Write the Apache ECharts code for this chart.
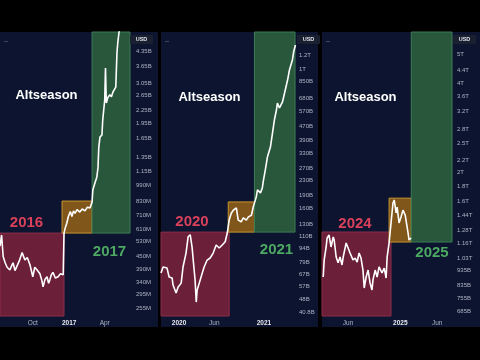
<!DOCTYPE html>
<html>
<head>
<meta charset="utf-8">
<script src="https://cdn.jsdelivr.net/npm/echarts@6.0.0/dist/echarts.min.js"></script>
<style>
    html, body { margin: 0; padding: 0; background: #000; }
    #main { width: 480px; height: 360px; }
</style>
</head>
<body>
<div id="main"></div>
<script>
// ---- panel 1 : 2016 -> 2017 (total crypto market cap, USD) ----
var dates1 = ['2016-07-10','2016-07-14','2016-07-18','2016-07-23','2016-07-28','2016-08-04','2016-08-08','2016-08-12',
    '2016-08-17','2016-08-22','2016-08-28','2016-09-04','2016-09-11','2016-09-17','2016-09-24','2016-10-01','2016-10-06',
    '2016-10-12','2016-10-19','2016-10-24','2016-10-27','2016-11-01','2016-11-06','2016-11-10','2016-11-13','2016-11-17',
    '2016-11-21','2016-11-27','2016-12-04','2016-12-10','2016-12-17','2016-12-19','2016-12-22','2016-12-26','2016-12-30',
    '2017-01-04','2017-01-08','2017-01-12','2017-01-16','2017-01-21','2017-01-28','2017-02-03','2017-02-10','2017-02-16',
    '2017-02-23','2017-02-28','2017-03-02','2017-03-07','2017-03-12','2017-03-15','2017-03-17','2017-03-20','2017-03-25',
    '2017-03-27','2017-04-01','2017-04-03','2017-04-05','2017-04-09','2017-04-14','2017-04-18','2017-04-22','2017-04-29',
    '2017-05-02','2017-05-04','2017-05-07','2017-05-12'];
var caps1 = [505e6,570e6,450e6,420e6,400e6,388e6,405e6,420e6,
    385e6,390e6,430e6,470e6,433e6,445e6,410e6,360e6,400e6,
    388e6,372e6,345e6,322e6,350e6,360e6,335e6,347e6,368e6,
    378e6,355e6,360e6,372e6,368e6,583e6,616e6,650e6,700e6,
    740e6,700e6,745e6,725e6,755e6,735e6,760e6,745e6,775e6,
    770e6,821e6,938e6,1.01e9,1.08e9,1.2e9,1.5e9,1.68e9,1.72e9,
    2.03e9,2.53e9,3.6e9,2.45e9,2.6e9,2.68e9,2.62e9,2.77e9,2.92e9,
    4.25e9,4.75e9,5.31e9,6.0e9];
var yTicks1 = [4.35e9,3.65e9,3.05e9,2.65e9,2.25e9,1.95e9,1.65e9,1.35e9,1.15e9,990e6,830e6,710e6,610e6,530e6,450e6,390e6,340e6,295e6,255e6];
var xTicks1 = ['2016-10-01','2017-01-01','2017-04-01'];
var xNames1 = ['Oct','2017','Apr'];
var xRange1 = ['2016-07-10','2017-06-04'];
var yRange1 = [233.5e6, 5.36e9];
// zones: [from, to, low, high]
var redZone1 = ['2016-07-10','2016-12-19', 233.5e6, 583e6];
var orangeZone1 = ['2016-12-14','2017-02-28', 583e6, 830e6];
var greenZone1 = ['2017-02-28','2017-06-04', 583e6, 5.36e9];

// ---- panel 2 : 2020 -> 2021 ----
var dates2 = ['2019-10-15','2019-10-24','2019-11-01','2019-11-10','2019-11-19','2019-12-02','2019-12-06','2019-12-19',
    '2019-12-28','2020-01-10','2020-01-18','2020-01-31','2020-02-09','2020-02-18','2020-02-26','2020-03-02','2020-03-10',
    '2020-03-15','2020-03-19','2020-03-28','2020-04-10','2020-04-18','2020-05-01','2020-05-14','2020-05-27','2020-06-09',
    '2020-06-22','2020-07-05','2020-07-18','2020-07-27','2020-08-04','2020-08-13','2020-08-22','2020-09-04','2020-09-12',
    '2020-09-25','2020-10-04','2020-10-17','2020-10-26','2020-11-08','2020-11-16','2020-11-29','2020-12-04','2020-12-17',
    '2020-12-25','2020-12-30','2021-01-07','2021-01-16','2021-01-29','2021-02-07','2021-02-15','2021-02-24','2021-02-28',
    '2021-03-09','2021-03-22','2021-03-31','2021-04-13','2021-04-21','2021-05-04','2021-05-09','2021-05-17'];
var caps2 = [68.3e9,73.9e9,75.8e9,72.9e9,64.8e9,63.9e9,58.3e9,52.5e9,
    56.8e9,59.8e9,73.9e9,88.8e9,110e9,113e9,96e9,81e9,62.3e9,
    46.6e9,54.6e9,59.8e9,68.3e9,73.9e9,81e9,83.2e9,88.8e9,98.7e9,
    94.9e9,98.7e9,103e9,116e9,137e9,150e9,156e9,161e9,137e9,
    134e9,141e9,137e9,143e9,146e9,163e9,186e9,204e9,196e9,
    209e9,232e9,265e9,314e9,358e9,431e9,511e9,583e9,639e9,
    599e9,648e9,729e9,865e9,987e9,1.13e12,1.25e12,1.37e12];
var yTicks2 = [1.2e12,1e12,850e9,680e9,570e9,470e9,390e9,330e9,270e9,230e9,190e9,160e9,130e9,110e9,94e9,79e9,67e9,57e9,48e9,40.8e9];
var xTicks2 = ['2020-01-01','2020-06-01','2021-01-01'];
var xNames2 = ['2020','Jun','2021'];
var xRange2 = ['2019-10-15','2021-05-15'];
var yRange2 = [38.8e9, 1.627e12];
var redZone2 = ['2019-10-15','2020-08-04', 38.8e9, 117e9];
var orangeZone2 = ['2020-07-31','2020-11-21', 117e9, 174e9];
var greenZone2 = ['2020-11-21','2021-05-15', 117e9, 1.627e12];

// ---- panel 3 : 2024 -> 2025 ----
var dates3 = ['2024-02-20','2024-02-24','2024-03-03','2024-03-07','2024-03-15','2024-03-23','2024-04-01','2024-04-05',
    '2024-04-13','2024-04-21','2024-04-29','2024-05-07','2024-05-12','2024-05-24','2024-06-01','2024-06-09','2024-06-21',
    '2024-06-30','2024-07-08','2024-07-16','2024-07-24','2024-08-01','2024-08-06','2024-08-14','2024-08-22','2024-08-30',
    '2024-09-07','2024-09-11','2024-09-20','2024-09-28','2024-10-06','2024-10-18','2024-10-27','2024-11-04','2024-11-08',
    '2024-11-16','2024-11-24','2024-12-02','2024-12-07','2024-12-15','2024-12-19','2024-12-27','2025-01-04','2025-01-12',
    '2025-01-21','2025-01-29','2025-02-02','2025-02-06','2025-02-14'];
var caps3 = [891e9,1.017e12,1.124e12,1.205e12,1.233e12,1.124e12,1.214e12,1.186e12,
    1.04e12,994e9,1.04e12,978e9,1.04e12,1.159e12,1.168e12,1.073e12,1.017e12,
    1.032e12,1.0e12,1.073e12,1.032e12,940e9,818e9,891e9,940e9,851e9,
    806e9,871e9,940e9,891e9,963e9,919e9,955e9,884e9,1.04e12,
    1.159e12,1.353e12,1.58e12,1.617e12,1.462e12,1.53e12,1.353e12,1.417e12,1.495e12,
    1.44e12,1.462e12,1.25e12,1.186e12,1.205e12];
var yTicks3 = [5e12,4.4e12,4e12,3.6e12,3.2e12,2.8e12,2.5e12,2.2e12,2e12,1.8e12,1.6e12,1.44e12,1.28e12,1.16e12,1.03e12,935e9,835e9,755e9,685e9];
var xTicks3 = ['2024-06-01','2025-01-01','2025-06-01'];
var xNames3 = ['Jun','2025','Jun'];
var xRange3 = ['2024-02-15','2025-08-01'];
var yRange3 = [659e9, 5.93e12];
var redZone3 = ['2024-02-15','2024-11-24', 659e9, 1.262e12];
var orangeZone3 = ['2024-11-16','2025-02-15', 1.168e12, 1.64e12];
var greenZone3 = ['2025-02-15','2025-08-01', 1.168e12, 5.93e12];

var seasonLabels = ['2016','2017','2020','2021','2024','2025'];

function ts(s) { return Date.UTC(+s.slice(0, 4), +s.slice(5, 7) - 1, +s.slice(8, 10)); }

function capLabel(v) {
    v = Number(Number(v).toPrecision(4));
    if (v >= 1e12) return +(v / 1e12).toFixed(2) + 'T';
    if (v >= 1e9) return +(v / 1e9).toFixed(2) + 'B';
    return +(v / 1e6).toFixed(0) + 'M';
}

function zoneItem(z, fill, border) {
    return [
        { xAxis: ts(z[0]), yAxis: z[2], itemStyle: { color: fill, borderColor: border, borderWidth: 1 } },
        { xAxis: ts(z[1]), yAxis: z[3] }
    ];
}

var FONT = 'Liberation Sans';
var grids = [], xAxes = [], yAxes = [], series = [];

function addPanel(i, left, width, dates, caps, yTicks, xTicks, xNames, xRange, yRange, red, orange, green, labelMargin) {
    grids.push({ left: left, top: 32, width: width, height: 284 });
    var tickTs = xTicks.map(ts);
    xAxes.push({
        type: 'value', gridIndex: i, min: ts(xRange[0]), max: ts(xRange[1]),
        axisLine: { show: false }, axisTick: { show: false }, splitLine: { show: false },
        axisLabel: {
            customValues: tickTs, margin: 4, color: '#aeb3c2', fontSize: 6.5, fontFamily: FONT,
            formatter: function (val) {
                for (var k = 0; k < tickTs.length; k++) {
                    if (Math.abs(val - tickTs[k]) < 86400000) {
                        return /^\d{4}$/.test(xNames[k]) ? '{y|' + xNames[k] + '}' : xNames[k];
                    }
                }
                return '';
            },
            rich: { y: { fontWeight: 'bold', color: '#e8eaf0', fontSize: 6.5, fontFamily: FONT } }
        }
    });
    yAxes.push({
        type: 'log', logBase: 10, gridIndex: i, position: 'right', min: yRange[0], max: yRange[1],
        axisLine: { show: false }, axisTick: { show: false }, splitLine: { show: false },
        axisLabel: {
            customValues: yTicks, margin: labelMargin, color: '#aeb3c2', fontSize: 6, fontFamily: FONT,
            formatter: capLabel
        }
    });
    var data = [];
    for (var k = 0; k < dates.length; k++) data.push([ts(dates[k]), caps[k]]);
    series.push({
        type: 'line', xAxisIndex: i, yAxisIndex: i, data: data,
        showSymbol: false, clip: true, z: 3,
        lineStyle: { color: '#ffffff', width: 1.6 },
        markArea: {
            silent: true,
            data: [
                zoneItem(red, '#6c1f38', '#8a2f4a'),
                zoneItem(orange, '#80561a', '#c8962e'),
                zoneItem(green, '#29573c', '#3d7d55')
            ]
        }
    });
}

addPanel(0, 0, 130, dates1, caps1, yTicks1, xTicks1, xNames1, xRange1, yRange1, redZone1, orangeZone1, greenZone1, 6);
addPanel(1, 161, 134, dates2, caps2, yTicks2, xTicks2, xNames2, xRange2, yRange2, redZone2, orangeZone2, greenZone2, 4);
addPanel(2, 322, 130, dates3, caps3, yTicks3, xTicks3, xNames3, xRange3, yRange3, redZone3, orangeZone3, greenZone3, 5);

// panel frames and annotations
var graphics = [];
[[0, 158], [161, 157], [322, 158]].forEach(function (p, i) {
    graphics.push({ type: 'rect', z: -10, shape: { x: p[0], y: 32, width: p[1], height: 295 }, style: { fill: '#0c1430' } });
    var ux = [130, 297, 453][i];
    graphics.push({ type: 'rect', z: 10, shape: { x: ux, y: 35, width: 23, height: 9, r: 1 }, style: { fill: '#1b2030' } });
    graphics.push({ type: 'text', z: 11, x: ux + 11.5, y: 39.5,
        style: { text: 'USD', fill: '#e0e3ea', font: 'bold 5.5px ' + FONT, align: 'center', verticalAlign: 'middle' } });
    graphics.push({ type: 'text', z: 11, x: p[0] + 4, y: 41,
        style: { text: '--', fill: '#8a90a0', font: '6px ' + FONT, align: 'left', verticalAlign: 'middle' } });
});
[[46.5, 95], [209.5, 97], [365.5, 97]].forEach(function (p) {
    graphics.push({ type: 'text', z: 20, x: p[0], y: p[1],
        style: { text: 'Altseason', fill: '#ffffff', font: 'bold 13px ' + FONT, align: 'center', verticalAlign: 'middle' } });
});
var yearPos = [[26.5, 223], [109.5, 252], [192, 222], [276.5, 250], [355, 224], [432, 253]];
seasonLabels.forEach(function (t, i) {
    graphics.push({ type: 'text', z: 20, x: yearPos[i][0], y: yearPos[i][1],
        style: { text: t, fill: i % 2 === 0 ? '#d9415a' : '#4da862', font: 'bold 15px ' + FONT, align: 'center', verticalAlign: 'middle' } });
});

var myChart = echarts.init(document.getElementById('main'));
myChart.setOption({
    backgroundColor: '#000000',
    animation: false,
    grid: grids,
    xAxis: xAxes,
    yAxis: yAxes,
    series: series,
    graphic: graphics
});
</script>
</body>
</html>
